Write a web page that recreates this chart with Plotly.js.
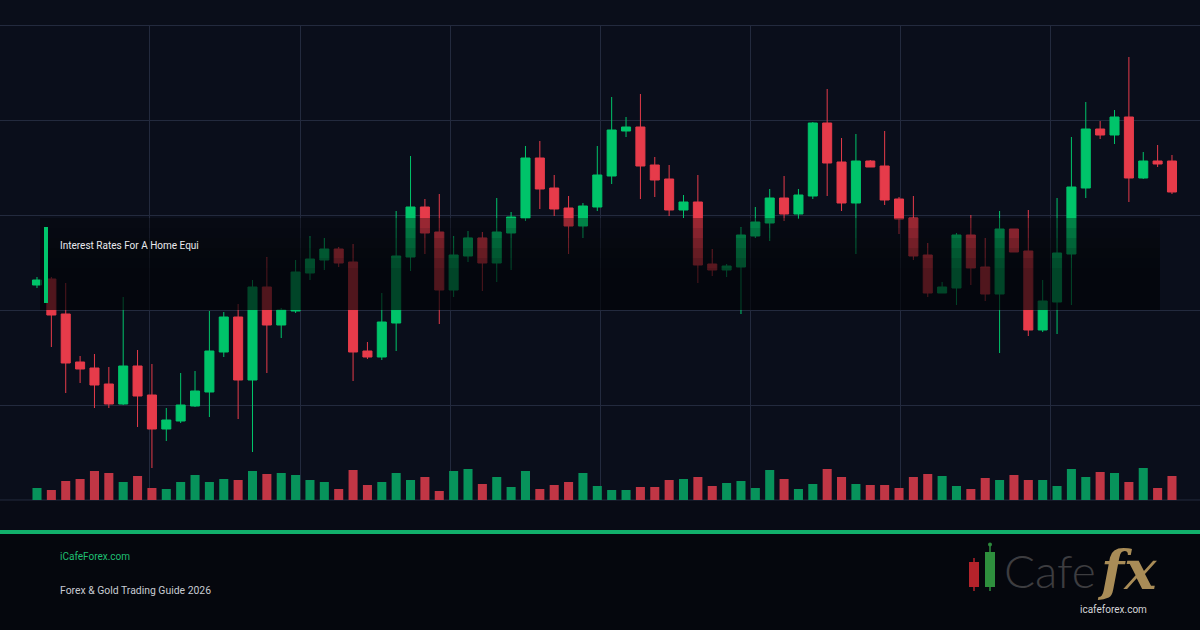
<!DOCTYPE html>
<html>
<head>
<meta charset="utf-8">
<script src="https://cdn.plot.ly/plotly-3.0.1.min.js"></script>
<style>
html,body{margin:0;padding:0;background:#0a0e1a;}
#chart{width:1200px;height:630px;}
</style>
</head>
<body>
<div id="chart"></div>
<script>
// ---- Data ----
const openPrices  = [315,321,286,238,232,216,196,234,205,171,179,194,208,248,283,220,313,275,289,327,340,351,338,249,243,277,343,393,368,310,344,362,337,367,382,442,412,392,374,393,424,469,473,435,421,390,398,336,330,333,364,377,402,386,404,477,438,397,439,434,401,382,345,307,312,365,333,306,371,349,270,298,346,412,471,465,483,422,439,439];
const highPrices  = [323,323,317,244,246,233,303,250,236,192,227,229,289,288,296,320,343,292,340,364,362,353,356,258,307,389,444,401,406,364,369,368,402,388,454,459,425,404,397,454,503,483,506,443,435,405,425,351,336,373,393,411,424,411,478,511,462,466,440,469,403,404,357,318,367,385,362,389,371,390,320,402,463,498,479,490,543,448,455,445];
const lowPrices   = [312,253,207,217,192,192,195,173,132,159,177,193,183,243,181,148,227,262,287,320,330,333,219,241,240,249,329,346,276,303,338,309,318,330,379,391,384,346,362,389,416,463,401,403,384,382,317,324,323,286,362,359,379,381,401,404,389,346,433,395,366,340,303,307,295,315,299,247,348,264,268,266,295,402,461,456,398,421,433,406];
const closePrices = [320,285,237,231,215,196,234,204,171,180,195,209,249,283,220,313,275,290,328,341,351,337,248,243,278,344,393,367,310,345,362,337,368,383,442,411,391,374,394,425,470,473,434,420,390,398,335,330,334,365,378,402,386,405,477,437,397,439,433,400,381,344,307,313,365,332,306,371,348,270,299,347,413,471,465,483,422,439,436,408];
const volumes     = [12,10,19,21,29,27,18,24,12,11,18,25,18,21,20,29,26,27,25,20,18,11,30,15,18,27,20,23,9,29,31,16,23,13,29,11,15,18,27,14,10,10,13,13,20,21,23,14,17,19,12,30,21,11,16,31,23,16,15,15,12,23,26,24,14,11,22,20,25,20,20,14,31,23,28,27,18,32,12,24];
const sessions = openPrices.map((_, i) => i);

const titleText = "Interest Rates For A Home Equi";
const siteText = "iCafeForex.com";
const guideText = "Forex & Gold Trading Guide 2026";
const logoUrlText = "icafeforex.com";

// ---- Styles ----
const GREEN = '#00c46a';
const RED = '#e63b4a';
const VOL_GREEN = '#07935b';
const VOL_RED = '#c13645';
const GRID = '#232a3e';

const volColors = sessions.map(i => closePrices[i] >= openPrices[i] ? VOL_GREEN : VOL_RED);

// pixel -> paper helpers for decorations (plot area: y 25..500, x 0..1200)
const PX = x => x / 1200;
const PY = y => (500 - y) / 475;

const volumeTrace = {
  type: 'bar', x: sessions, y: volumes, yaxis: 'y2',
  marker: {color: volColors, line: {width: 0}}, width: 0.63,
  hoverinfo: 'skip'
};
const candleTrace = {
  type: 'candlestick', x: sessions,
  open: openPrices, high: highPrices, low: lowPrices, close: closePrices,
  increasing: {line: {color: GREEN, width: 1}, fillcolor: GREEN},
  decreasing: {line: {color: RED, width: 1}, fillcolor: RED},
  whiskerwidth: 0, hoverinfo: 'skip'
};

const shapes = [];
function rect(x0, y0, x1, y1, color, layer) {
  shapes.push({type: 'rect', xref: 'paper', yref: 'paper',
    x0: PX(x0), x1: PX(x1), y0: PY(y0), y1: PY(y1),
    fillcolor: color, line: {width: 0}, layer: layer || 'above'});
}
function hline(y, color) {
  shapes.push({type: 'line', xref: 'paper', yref: 'paper', x0: 0, x1: 1, y0: PY(y), y1: PY(y),
    line: {color: color, width: 1}, layer: 'below'});
}
// lower bands
rect(0, 500, 1200, 530, '#080b15', 'below');
hline(25.5, GRID);
hline(500, GRID);
rect(0, 530, 1200, 534, '#12b06b');
rect(0, 534, 1200, 630, '#05070d');
// dim overlay box with vertical gradient (strips)
const strips = [[218,228,0.34],[228,238,0.42],[238,248,0.5],[248,258,0.56],[258,268,0.62],[268,310,0.66]];
strips.forEach(s => rect(40, s[0], 1160, s[1], 'rgba(2,3,6,' + s[2] + ')'));
// green accent
rect(44, 227, 48, 303, GREEN);
// logo candles
shapes.push({type:'line', xref:'paper', yref:'paper', x0:PX(974), x1:PX(974), y0:PY(558), y1:PY(591), line:{color:'#b0222a', width:1.5}});
rect(969, 562, 979, 587, '#b5232b');
shapes.push({type:'line', xref:'paper', yref:'paper', x0:PX(990), x1:PX(990), y0:PY(545), y1:PY(591), line:{color:'#2c8a3c', width:1.5}});
rect(985, 552, 995, 587, '#2e8f3d');
shapes.push({type:'circle', xref:'paper', yref:'paper', x0:PX(988), x1:PX(992), y0:PY(546.5), y1:PY(542.5), fillcolor:'#2c8a3c', line:{width:0}});

function ann(text, x, y, size, color, extra) {
  return Object.assign({text: text, xref: 'paper', yref: 'paper', x: PX(x), y: PY(y),
    xanchor: 'left', yanchor: 'middle', showarrow: false, borderpad: 0,
    font: {family: 'Roboto, "Liberation Sans", sans-serif', size: size, color: color}}, extra || {});
}
const annotations = [
  ann(titleText, 59, 245, 10, '#e9eaee'),
  ann(siteText, 59, 556, 10, '#1fbf72'),
  ann(guideText, 59, 590, 10.4, '#c8cbd2'),
  ann('Cafe', 1003, 570, 46, '#3d3d40', {font: {family: 'Lato, "Liberation Sans", sans-serif', size: 46, color: '#3d3d40', weight: 300}}),
  ann('<i><b>fx</b></i>', 1096, 570, 54, '#a98c57', {font: {family: '"DejaVu Serif", "Liberation Serif", serif', size: 54, color: '#a98c57'}}),
  ann(logoUrlText, 1113, 609, 10, '#d4d4d8', {xanchor: 'center'})
];

const layout = {
  width: 1200, height: 630,
  margin: {l: 0, r: 0, t: 25, b: 130, pad: 0},
  paper_bgcolor: '#0a0e1a', plot_bgcolor: '#0a0e1b',
  showlegend: false, boxgap: 0.1, bargap: 0.37,
  xaxis: {range: [-2.575, 80.95], tickmode: 'linear', tick0: 7.865, dtick: 10.441,
    showgrid: true, gridcolor: GRID, gridwidth: 1, showticklabels: false,
    zeroline: false, showline: false, ticks: '', rangeslider: {visible: false}, fixedrange: true},
  yaxis: {range: [100, 575], tickmode: 'linear', tick0: 100, dtick: 95,
    showgrid: true, gridcolor: GRID, gridwidth: 1, showticklabels: false,
    zeroline: false, showline: false, ticks: '', fixedrange: true},
  yaxis2: {overlaying: 'y', range: [0, 475], visible: false, fixedrange: true},
  shapes: shapes,
  annotations: annotations
};

Plotly.newPlot('chart', [volumeTrace, candleTrace], layout, {displayModeBar: false, staticPlot: true});
</script>
</body>
</html>
